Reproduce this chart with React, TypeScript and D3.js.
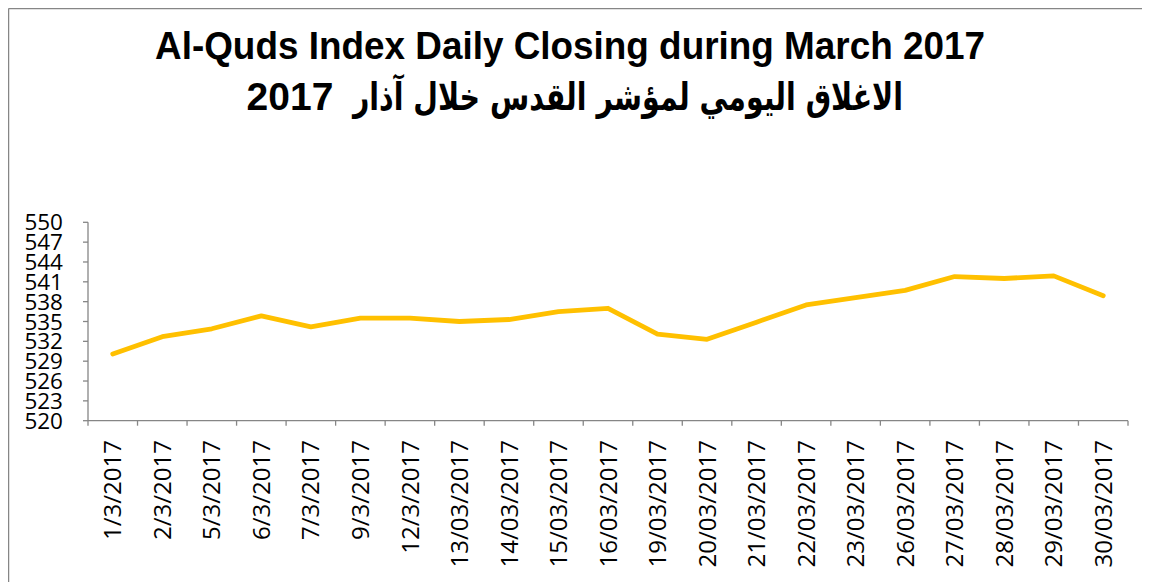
import React from "react";
import * as d3 from "d3";

const titleLine1 = "Al-Quds Index Daily Closing during March 2017";
const titleLine2Arabic = "الاغلاق اليومي لمؤشر القدس خلال آذار";
const titleLine2Year = "2017";

const dates = [
  "1/3/2017", "2/3/2017", "5/3/2017", "6/3/2017", "7/3/2017", "9/3/2017", "12/3/2017",
  "13/03/2017", "14/03/2017", "15/03/2017", "16/03/2017", "19/03/2017", "20/03/2017",
  "21/03/2017", "22/03/2017", "23/03/2017", "26/03/2017", "27/03/2017", "28/03/2017",
  "29/03/2017", "30/03/2017",
];
const closing = [
  530.1, 532.7, 533.9, 535.85, 534.2, 535.5, 535.5, 535.0, 535.3, 536.5, 537.0,
  533.1, 532.3, 534.9, 537.5, 538.6, 539.7, 541.8, 541.5, 541.9, 538.9,
];
const yTicks = [520, 523, 526, 529, 532, 535, 538, 541, 544, 547, 550];

const W = 1142;
const H = 574;
const left = 80;
const right = 1120;
const top = 214.3;
const bottom = 412.7;
const axisColor = "#868686";
const tickFont = "'Open Sans', 'Liberation Sans', sans-serif";

export default function App() {
  const x = d3.scaleBand<string>().domain(dates).range([left, right]).padding(0);
  const y = d3.scaleLinear().domain([520, 550]).range([bottom, top]);
  const line = d3
    .line<number>()
    .x((_, i) => (x(dates[i]) as number) + x.bandwidth() / 2)
    .y((d) => y(d));
  const boundaries = d3.range(dates.length + 1).map((i) => left + i * x.bandwidth());

  return (
    <svg width={W} height={H} style={{ display: "block" }}>
      <rect x={0} y={0} width={W} height={H} fill="#fff" />
      <line x1={0.5} y1={0.5} x2={W} y2={0.5} stroke={axisColor} strokeWidth={1.5} />
      <line x1={0.5} y1={0.5} x2={0.5} y2={H} stroke={axisColor} strokeWidth={1.5} />

      <text
        x={562}
        y={51}
        textAnchor="middle"
        fontFamily="'Liberation Sans Narrow', 'Liberation Sans', sans-serif"
        fontWeight="bold"
        fontSize={39}
        textLength={830}
        lengthAdjust="spacingAndGlyphs"
        fill="#000"
      >
        {titleLine1}
      </text>
      <text
        x={620}
        y={102}
        textAnchor="middle"
        direction="rtl"
        fontFamily="'DejaVu Sans', sans-serif"
        fontWeight="bold"
        fontSize={38}
        textLength={550}
        lengthAdjust="spacingAndGlyphs"
        fill="#000"
      >
        {titleLine2Arabic}
      </text>
      <text
        x={282}
        y={102}
        textAnchor="middle"
        fontFamily="'Liberation Sans', sans-serif"
        fontWeight="bold"
        fontSize={39}
        fill="#000"
      >
        {titleLine2Year}
      </text>

      {/* y axis */}
      <line x1={left} y1={top} x2={left} y2={bottom} stroke={axisColor} strokeWidth={1.3} />
      {yTicks.map((t) => (
        <g key={t}>
          <line x1={left - 5} x2={left} y1={y(t)} y2={y(t)} stroke={axisColor} strokeWidth={1.3} />
          <text
            x={55}
            y={y(t)}
            dy="0.36em"
            textAnchor="end"
            fontFamily={tickFont}
            fontSize={22.5}
            fill="#000"
          >
            {t}
          </text>
        </g>
      ))}

      {/* x axis */}
      <line x1={left} y1={bottom} x2={right} y2={bottom} stroke={axisColor} strokeWidth={1.3} />
      {boundaries.map((bx, i) => (
        <line key={i} x1={bx} x2={bx} y1={bottom} y2={bottom + 5} stroke={axisColor} strokeWidth={1.3} />
      ))}
      {dates.map((d) => {
        const cx = (x(d) as number) + x.bandwidth() / 2;
        return (
          <text
            key={d}
            transform={`translate(${cx},${432}) rotate(-90)`}
            dy="0.36em"
            textAnchor="end"
            fontFamily={tickFont}
            fontSize={24}
            fill="#000"
          >
            {d}
          </text>
        );
      })}

      <path
        d={line(closing) || ""}
        fill="none"
        stroke="#FFC000"
        strokeWidth={4.8}
        strokeLinecap="round"
        strokeLinejoin="round"
      />
    </svg>
  );
}
